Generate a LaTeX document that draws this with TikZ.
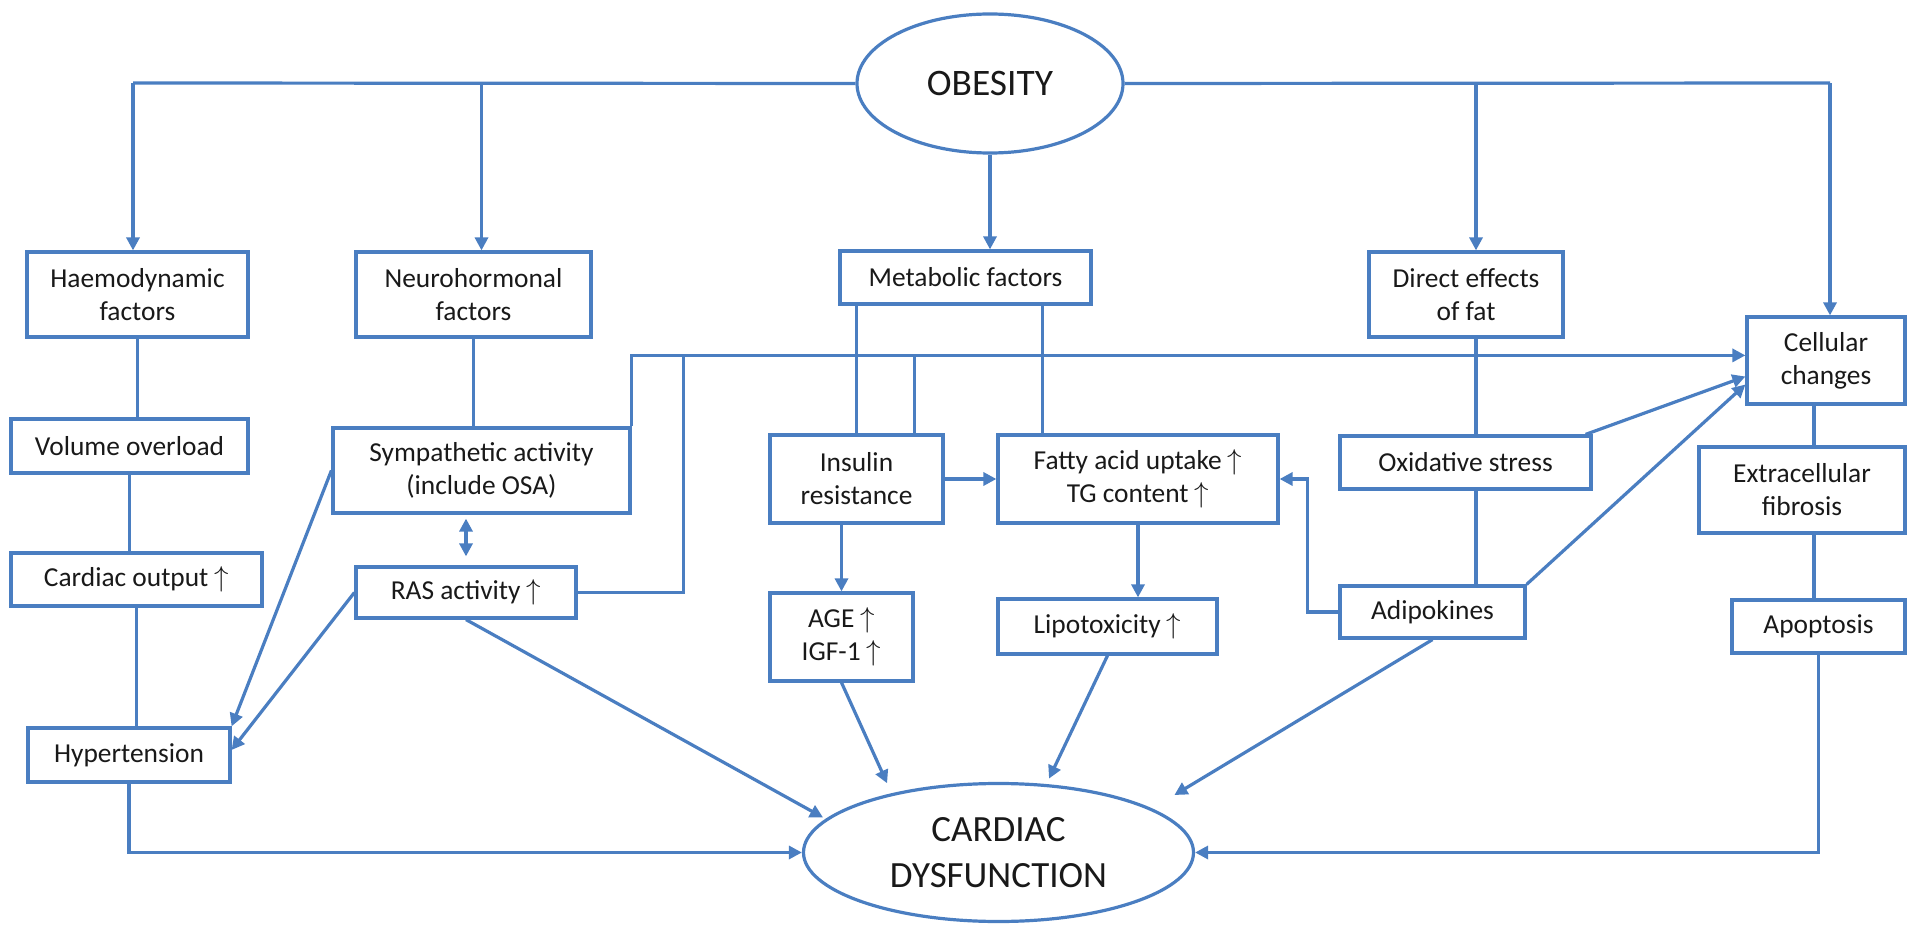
\documentclass[tikz,border=0pt]{standalone}
\usepackage{fontspec}
\setmainfont{Carlito}
\usetikzlibrary{shapes.geometric, arrows.meta, positioning}
\definecolor{linkblue}{RGB}{74,126,193}
\definecolor{inktext}{RGB}{25,25,25}
\newcommand{\upmark}{\ensuremath{\uparrow}}

\begin{document}
\begin{tikzpicture}[
  x=0.5pt, y=-0.5pt,
  line width=1.6pt,
  box/.style={draw=linkblue, rectangle, inner sep=2pt, align=center, text=inktext, font=\fontsize{13.7}{16.5}\selectfont},
  oval/.style={draw=linkblue, ellipse, inner sep=0pt, align=center, text=inktext},
  arr/.style={draw=linkblue, -{Triangle[length=6.5pt,width=6.5pt]}},
  arrs/.style={draw=linkblue, {Triangle[length=6.5pt,width=6.5pt]}-{Triangle[length=6.5pt,width=6.5pt]}},
  link/.style={draw=linkblue}
]
  \useasboundingbox (0,0) rectangle (1907,925);

  % the two ellipses
  \node[oval, minimum width=133pt, minimum height=69.5pt, font=\fontsize{18.7}{22}\selectfont] (obesity) at (990,83.5) {OBESITY};
  \node[oval, minimum width=195pt, minimum height=69pt, font=\fontsize{18.5}{23}\selectfont] (cardiac) at (998.5,852.5) {CARDIAC\\DYSFUNCTION};

  % first row
  \node[box, minimum width=110.5pt, minimum height=42.5pt] (haemo) at (137.5,294.5) {Haemodynamic\\factors};
  \node[box, minimum width=117.5pt, minimum height=42.5pt] (neuro) at (473.5,294.5) {Neurohormonal\\factors};
  \node[box, minimum width=125.5pt, minimum height=26.5pt] (metab) at (965.5,277.5) {Metabolic factors};
  \node[box, minimum width=97pt, minimum height=42.5pt] (direct) at (1466,294.5) {Direct effects\\of fat};
  \node[box, minimum width=79pt, minimum height=43.5pt] (cell) at (1826,360.5) {Cellular\\changes};

  % second row
  \node[box, minimum width=118.5pt, minimum height=27pt] (volume) at (129.5,446) {Volume overload};
  \node[box, minimum width=148.5pt, minimum height=42.5pt] (symp) at (481.5,470.5) {Sympathetic activity\\(include OSA)};
  \node[box, minimum width=86.5pt, minimum height=44pt] (insulin) at (856.5,479) {Insulin\\resistance};
  \node[box, minimum width=140pt, minimum height=44pt] (fatty) at (1138,479) {Fatty acid uptake \upmark\\TG content \upmark};
  \node[box, minimum width=125.5pt, minimum height=26.5pt] (oxid) at (1465.5,462.5) {Oxidative stress};
  \node[box, minimum width=103pt, minimum height=43pt] (extra) at (1802,490) {Extracellular\\fibrosis};

  % third row
  \node[box, minimum width=125.5pt, minimum height=26.5pt] (cardout) at (136.5,579.5) {Cardiac output \upmark};
  \node[box, minimum width=110pt, minimum height=25.5pt] (ras) at (466,592.5) {RAS activity \upmark};
  \node[box, minimum width=71.5pt, minimum height=44pt] (age) at (841.5,637) {AGE \upmark\\IGF-1 \upmark};
  \node[box, minimum width=109.5pt, minimum height=27.5pt] (lipo) at (1107.5,626.5) {Lipotoxicity \upmark};
  \node[box, minimum width=92.5pt, minimum height=26pt] (adipo) at (1432.5,612) {Adipokines};
  \node[box, minimum width=86.5pt, minimum height=26.5pt] (apop) at (1818.5,626.5) {Apoptosis};
  \node[box, minimum width=101pt, minimum height=27pt] (hyper) at (129,755) {Hypertension};

  % top bus from obesity
  \coordinate (busL) at (133,83);
  \coordinate (busR) at (1830,83);
  \draw[link] (obesity.west) -- (busL);
  \draw[link] (obesity.east) -- (busR);
  \draw[arr] (busL) -- (busL |- haemo.north);
  \draw[arr] ([xshift=4pt]neuro.north |- busL) -- ([xshift=4pt]neuro.north);
  \draw[arr] (obesity.south) -- (obesity.south |- metab.north);
  \draw[arr] ([xshift=5pt]direct.north |- busR) -- ([xshift=5pt]direct.north);
  \draw[arr] (busR) -- (busR |- cell.north);

  % haemodynamic chain
  \draw[link] (haemo.south) -- (haemo.south |- volume.north);
  \draw[link] (volume.south) -- (volume.south |- cardout.north);
  \draw[link] (cardout.south) -- (cardout.south |- hyper.north);
  \draw[arr] (hyper.south) |- (cardiac.west);

  % neurohormonal chain
  \draw[link] (neuro.south) -- (neuro.south |- symp.north);
  \draw[arrs, shorten <=4.5pt, shorten >=2pt] (ras.north) -- (ras.north |- symp.south);
  \draw[arr] (symp.west) -- (hyper.north east);
  \draw[arr] (ras.west) -- ([yshift=2.5pt]hyper.east);
  \draw[arr, shorten >=1.5pt] (ras.south) -- (cardiac.169);

  % line to cellular changes
  \path (symp.north east) ++(0pt,35.5pt) coordinate (hub);
  \draw[arr] (symp.north east) -- (hub) -- (hub -| cell.west);
  \draw[link] (ras.east) -| ([xshift=26pt]hub);
  \draw[link] ([xshift=-15pt]insulin.north east) -- ([xshift=-15pt]insulin.north east |- hub);

  % metabolic chain
  \draw[link] (insulin.north) -- (insulin.north |- metab.south);
  \draw[link] ([xshift=23pt]fatty.north west) -- ([xshift=23pt]fatty.north west |- metab.south);
  \draw[arr] (insulin.east) -- (fatty.west);
  \draw[arr] (insulin.south -| age.north) -- (age.north);
  \draw[arr] (fatty.south) -- (fatty.south |- lipo.north);
  \draw[arr, shorten >=5.5pt] (age.south) -- (cardiac.151);
  \draw[arr, shorten >=3pt] (lipo.south) -- (cardiac.55);

  % direct effects of fat
  \draw[link] ([xshift=5pt]direct.south) -- ([xshift=5pt]direct.south |- oxid.north);
  \draw[link] ([xshift=5pt]direct.south |- oxid.south) -- ([xshift=5pt]direct.south |- adipo.north);
  \draw[arr] ([xshift=-3.5pt]oxid.north east) -- ([yshift=-8pt]cell.west);
  \draw[arr] (adipo.north east) -- ([yshift=-12pt]cell.west);
  \draw[arr] (adipo.west) -- ++(-15.5pt,0pt) |- (fatty.east);
  \draw[arr, shorten >=13pt] (adipo.south) -- (cardiac.16);

  % cellular chain
  \draw[link] ([xshift=-6pt]cell.south) -- ([xshift=-6pt]cell.south |- extra.north);
  \draw[link] ([xshift=6pt]extra.south) -- ([xshift=6pt]extra.south |- apop.north);
  \draw[arr] (apop.south) |- (cardiac.east);
\end{tikzpicture}
\end{document}
